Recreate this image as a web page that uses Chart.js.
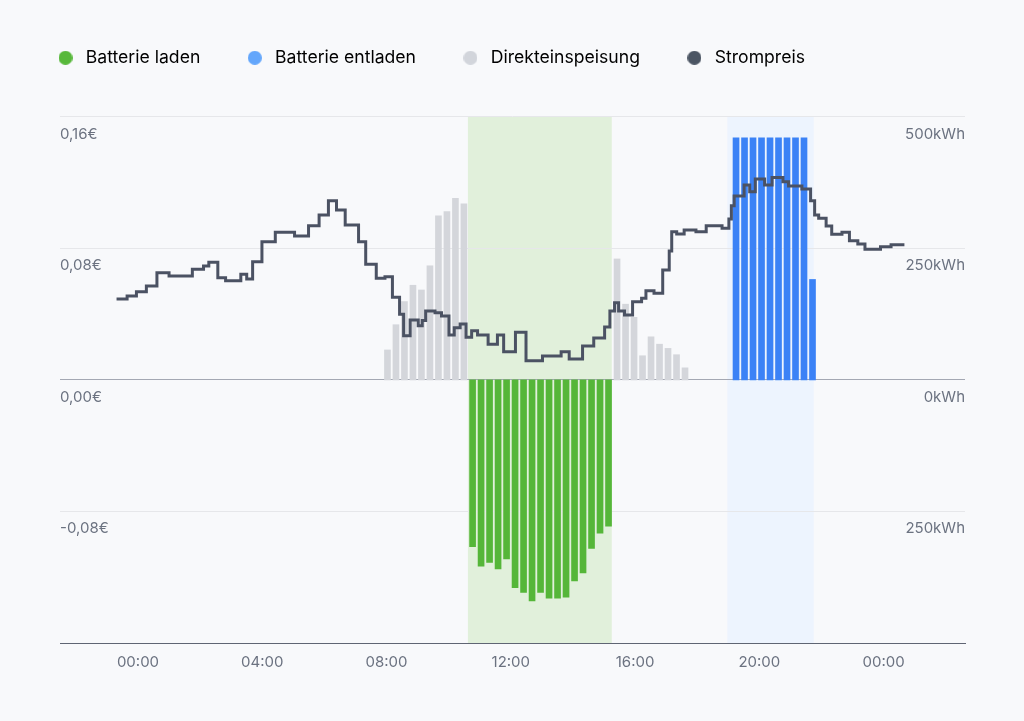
<!DOCTYPE html>
<html lang="de">
<head>
<meta charset="utf-8">
<title>Batteriespeicher – Tagesverlauf</title>
<script src="https://cdn.jsdelivr.net/npm/chart.js@4.4.1/dist/chart.umd.min.js"></script>
<style>
	html, body { margin: 0; padding: 0; background: #f8f9fb; }
	#chartContainer { width: 1024px; height: 721px; }
</style>
</head>
<body>
<div id="chartContainer"><canvas id="chart"></canvas></div>
<script>
// x values are hours of the day (negative = evening before, > 24 = next day)
var xMin = -2.51;
var xMax = 26.62;
var tickHours = [0, 4, 8, 12, 16, 20, 24];

var priceTicks = [-0.16, -0.08, 0, 0.08, 0.16];
var priceTickLabels = ['', '-0,08€', '0,00€', '0,08€', '0,16€'];
var energyTicks = [-500, -250, 0, 250, 500];
var energyTickLabels = ['', '250kWh', '0kWh', '250kWh', '500kWh'];

// bars come in a fixed slot grid
var slotStep = 0.2735;

var feedInMorningStart = 8.03;
var feedInMorning = [57, 105, 149, 180, 171, 217, 312, 320, 345, 335];
var chargeStart = 10.77;
var chargeKWh = [-317, -354, -347, -359, -340, -395, -404, -420, -404, -415, -415, -413, -382, -367, -320, -291, -278];
var feedInAfternoonStart = 15.42;
var feedInAfternoon = [230, 144, 119, 46, 82, 68, 60, 48, 23];
var dischargeStart = 19.25;
var dischargeKWh = [460, 460, 460, 460, 460, 460, 460, 460, 460, 191];

// stepped price line: start of each step
var priceHours = [-0.69, -0.35, -0.05, 0.27, 0.61, 1.00, 1.75, 2.11, 2.28, 2.57, 2.82, 3.31, 3.50, 3.69, 3.99,
	4.42, 5.04, 5.49, 5.83, 6.13, 6.39, 6.67, 7.10, 7.33, 7.67, 7.95, 8.19, 8.42, 8.55, 8.76,
	9.02, 9.15, 9.26, 9.56, 9.77, 10.01, 10.18, 10.37, 10.56, 10.74, 10.93, 11.27, 11.57, 11.77, 12.15,
	12.49, 13.02, 13.62, 13.88, 14.31, 14.67, 15.02, 15.19, 15.34, 15.47, 15.66, 15.92, 16.21, 16.35, 16.61,
	16.89, 17.10, 17.18, 17.34, 17.58, 17.96, 18.29, 18.80, 19.02, 19.10, 19.19, 19.51, 19.69, 19.87, 20.17,
	20.41, 20.76, 20.94, 21.37, 21.65, 21.78, 21.91, 22.15, 22.33, 22.66, 22.90, 23.17, 23.40, 23.90, 24.24, 24.67];
var priceEuro = [0.0493, 0.0511, 0.0537, 0.0572, 0.0652, 0.0632, 0.0673, 0.0693, 0.0716, 0.0622, 0.0604, 0.0643, 0.0614, 0.0719, 0.0841,
	0.0898, 0.0876, 0.0938, 0.1003, 0.1090, 0.1034, 0.0942, 0.0841, 0.0703, 0.0618, 0.0628, 0.0503, 0.0399, 0.0269, 0.0365,
	0.0330, 0.0361, 0.0420, 0.0409, 0.0389, 0.0274, 0.0318, 0.0340, 0.0260, 0.0300, 0.0274, 0.0217, 0.0274, 0.0172, 0.0290,
	0.0117, 0.0146, 0.0172, 0.0128, 0.0207, 0.0255, 0.0322, 0.0420, 0.0470, 0.0420, 0.0395, 0.0476, 0.0497, 0.0543, 0.0527,
	0.0669, 0.0784, 0.0902, 0.0888, 0.0912, 0.0902, 0.0938, 0.0922, 0.0979, 0.1060, 0.1119, 0.1186, 0.1145, 0.1222, 0.1186,
	0.1232, 0.1206, 0.1180, 0.1161, 0.1090, 0.1003, 0.0983, 0.0936, 0.0886, 0.0898, 0.0847, 0.0827, 0.0795, 0.0810, 0.0823, 0.0823];

// shaded windows (hours)
var chargeWindow = [10.62, 15.25];
var dischargeWindow = [18.97, 21.75];

function slots(start, values) {
	return values.map(function(v, i) {
		return { x: start + i * slotStep, y: v };
	});
}

function pairs(xs, ys) {
	return xs.map(function(x, i) {
		return { x: x, y: ys[i] };
	});
}

var colors = {
	green: '#55b639',
	blue: '#3b82f6',
	grey: '#d4d6db',
	line: '#4b5263',
	legendGreen: '#57b83a',
	legendBlue: '#63a6fb',
	legendGrey: '#d2d5db',
	legendLine: '#4b5563',
	chargeBand: '#e1f0db',
	dischargeBand: '#edf4fe',
	text: '#6b7280'
};

var dotCache = {};
function dot(color) {
	if (!dotCache[color]) {
		var c = document.createElement('canvas');
		c.width = 14;
		c.height = 14;
		var g = c.getContext('2d');
		g.fillStyle = color;
		g.beginPath();
		g.arc(7, 7, 7, 0, Math.PI * 2);
		g.fill();
		dotCache[color] = c;
	}
	return dotCache[color];
}

var bandsPlugin = {
	id: 'bands',
	beforeDraw: function(chart) {
		var ctx = chart.ctx;
		var area = chart.chartArea;
		var xs = chart.scales.x;
		[[chargeWindow, colors.chargeBand], [dischargeWindow, colors.dischargeBand]].forEach(function(b) {
			var x0 = xs.getPixelForValue(b[0][0]);
			var x1 = xs.getPixelForValue(b[0][1]);
			ctx.save();
			ctx.fillStyle = b[1];
			ctx.fillRect(x0, area.top, x1 - x0, area.bottom - area.top);
			ctx.restore();
		});
	}
};

// more room under the legend
var legendSpacing = {
	id: 'legendSpacing',
	beforeLayout: function(chart) {
		var lg = chart.legend;
		if (lg && !lg._spaced) {
			var fit = lg.fit;
			lg.fit = function() {
				fit.call(this);
				this.height += 40.3;
			};
			lg._spaced = true;
		}
	}
};

var legendColors = [colors.legendGreen, colors.legendBlue, colors.legendGrey, colors.legendLine];

var ctx = document.getElementById('chart').getContext('2d');
var chart = new Chart(ctx, {
	type: 'bar',
	data: {
		datasets: [
			{
				label: 'Batterie laden',
				data: slots(chargeStart, chargeKWh),
				backgroundColor: colors.green,
				yAxisID: 'yEnergy'
			},
			{
				label: 'Batterie entladen',
				data: slots(dischargeStart, dischargeKWh),
				backgroundColor: colors.blue,
				yAxisID: 'yEnergy'
			},
			{
				label: 'Direkteinspeisung',
				data: slots(feedInMorningStart, feedInMorning).concat(slots(feedInAfternoonStart, feedInAfternoon)),
				backgroundColor: colors.grey,
				yAxisID: 'yEnergy'
			},
			{
				type: 'line',
				label: 'Strompreis',
				data: pairs(priceHours, priceEuro),
				borderColor: colors.line,
				borderWidth: 3,
				borderJoinStyle: 'miter',
				stepped: true,
				pointRadius: 0,
				fill: false,
				order: -1,
				yAxisID: 'yPrice'
			}
		]
	},
	options: {
		responsive: true,
		maintainAspectRatio: false,
		animation: false,
		layout: { padding: { left: 11, right: 10, top: 6, bottom: 40 } },
		datasets: {
			bar: { barThickness: 6, grouped: false }
		},
		plugins: {
			tooltip: { enabled: false },
			legend: {
				position: 'top',
				align: 'start',
				labels: {
					usePointStyle: true,
					pointStyleWidth: 23,
					boxHeight: 14,
					padding: 43,
					color: '#1f2937',
					font: { family: 'Inter', size: 17.6 },
					generateLabels: function(chart) {
						return chart.data.datasets.map(function(ds, i) {
							return {
								text: ds.label,
								pointStyle: dot(legendColors[i]),
								fillStyle: legendColors[i],
								strokeStyle: legendColors[i],
								lineWidth: 0,
								hidden: !chart.isDatasetVisible(i),
								datasetIndex: i
							};
						});
					}
				}
			}
		},
		scales: {
			x: {
				type: 'linear',
				min: xMin,
				max: xMax,
				offset: false,
				afterBuildTicks: function(scale) {
					scale.ticks = tickHours.map(function(h) { return { value: h }; });
				},
				ticks: {
					padding: 10,
					color: colors.text,
					font: { family: 'Inter', size: 15 },
					callback: function(value) {
						var h = value % 24;
						return (h < 10 ? '0' : '') + h + ':00';
					}
				},
				grid: { display: false, drawTicks: false },
				border: { color: '#5f6573', width: 1 }
			},
			yPrice: {
				position: 'left',
				min: -0.16,
				max: 0.16,
				afterBuildTicks: function(scale) {
					scale.ticks = priceTicks.map(function(v) { return { value: v }; });
				},
				afterFit: function(scale) { scale.width = 49; },
				ticks: {
					mirror: true,
					padding: 0,
					labelOffset: 17.5,
					color: colors.text,
					font: { family: 'Inter', size: 15 },
					callback: function(value, index) { return priceTickLabels[index]; }
				},
				grid: {
					drawTicks: false,
					lineWidth: 1,
					color: function(c) {
						if (c.index === 0) return 'rgba(0,0,0,0)';
						return c.tick && c.tick.value === 0 ? '#a4a8b3' : '#e6e7ea';
					}
				},
				border: { display: false }
			},
			yEnergy: {
				position: 'right',
				min: -500,
				max: 500,
				afterBuildTicks: function(scale) {
					scale.ticks = energyTicks.map(function(v) { return { value: v }; });
				},
				afterFit: function(scale) { scale.width = 49; },
				ticks: {
					mirror: true,
					padding: 0,
					labelOffset: 17.5,
					color: colors.text,
					font: { family: 'Inter', size: 15 },
					callback: function(value, index) { return energyTickLabels[index]; }
				},
				grid: { display: false, drawTicks: false },
				border: { display: false }
			}
		}
	},
	plugins: [bandsPlugin, legendSpacing]
});
</script>
</body>
</html>
